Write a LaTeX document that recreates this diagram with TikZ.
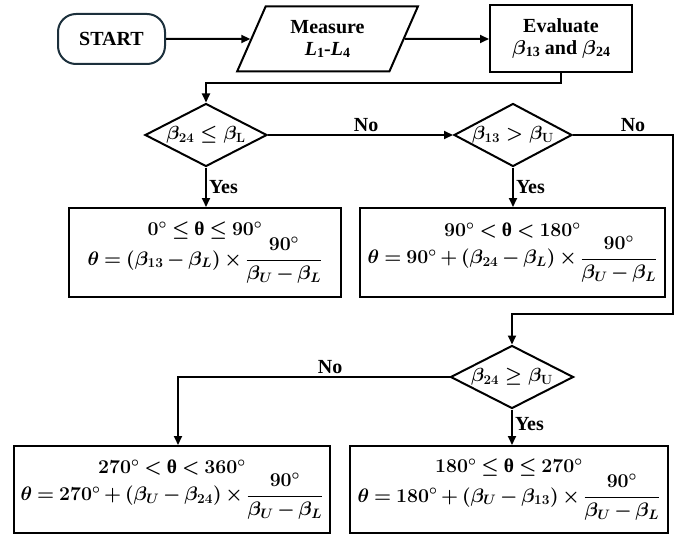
\RequirePackage{fix-cm}
\documentclass[tikz,border=0pt]{standalone}
\usepackage{amsmath}
\usepackage{fontspec}
\setmainfont{Liberation Serif}
\usetikzlibrary{arrows.meta,shapes.geometric}
\definecolor{startcol}{RGB}{28,48,60}
\newcommand{\lblfont}{\fontsize{20}{23}\selectfont\bfseries}
\newcommand{\boxfont}{\fontsize{20}{23}\selectfont\bfseries\boldmath}
\newcommand{\mathfont}{\fontsize{19.5}{23}\selectfont\bfseries\boldmath\medmuskip=3mu\thickmuskip=4mu}
\newcommand{\dfont}{\fontsize{19}{22}\selectfont\bfseries\boldmath}
\newcommand{\smallnum}[1]{\raisebox{-1.5pt}{\fontsize{14}{14}\selectfont #1}}
\begin{document}
\begin{tikzpicture}[x=1pt,y=-1pt,
  startbox/.style={draw=startcol, line width=2pt, rounded corners=18pt, minimum width=107pt, minimum height=50pt, inner sep=0pt, font=\boxfont},
  iobox/.style={draw, line width=2pt, trapezium, trapezium left angle=65, trapezium right angle=115, trapezium stretches=true, minimum width=181pt, minimum height=65pt, inner sep=0pt, align=center, font=\boxfont},
  procbox/.style={draw, line width=2pt, rectangle, inner sep=0pt, align=center, font=\boxfont},
  calcbox/.style={draw, line width=2pt, rectangle, inner sep=0pt, align=center, font=\mathfont},
  decision/.style={draw, line width=2pt, diamond, inner sep=0pt, minimum width=122pt, minimum height=63pt},
  dtext/.style={font=\dfont, inner sep=0pt},
  flow/.style={line width=2pt, -{Triangle[length=9pt,width=8pt]}},
  lbl/.style={font=\lblfont, inner sep=2pt}
]
\useasboundingbox (0,0) rectangle (689,535);

\node[startbox] (start) at (111.5,39) {START};
\node[iobox] (measure) at (327.5,39) {Measure\\[-1pt]{\itshape L}\smallnum{1}-{\itshape L}\smallnum{4}};
\node[procbox, minimum width=142pt, minimum height=67pt] (eval) at (561,39) {Evaluate\\[-1pt]$\beta$\smallnum{13} and $\beta$\smallnum{24}};

\node[decision] (d1) at (206,135) {};
\node[dtext] at (d1) {$\beta_{24}\le\beta_{\mathbf{L}}$};
\node[decision, minimum width=118pt] (d2) at (513,135) {};
\node[dtext] at (d2) {$\beta_{13}>\beta_{\mathbf{U}}$};
\node[decision, minimum width=123pt] (d3) at (512,377) {};
\node[dtext] at (d3) {$\beta_{24}\ge\beta_{\mathbf{U}}$};

\node[calcbox, minimum width=272pt, minimum height=89pt] (box1) at (205,252.5)
  {$0^\circ\le\text{θ}\le90^\circ$\\[-3pt]$\theta=(\beta_{13}-\beta_L)\times\dfrac{90^\circ}{\beta_U-\beta_L}$};
\node[calcbox, minimum width=305pt, minimum height=89pt] (box2) at (512.5,252.5)
  {$90^\circ<\text{θ}<180^\circ$\\[-3pt]$\theta=90^\circ+(\beta_{24}-\beta_L)\times\dfrac{90^\circ}{\beta_U-\beta_L}$};
\node[calcbox, minimum width=316pt, minimum height=87pt] (box3) at (172,489.5)
  {$270^\circ<\text{θ}<360^\circ$\\[-3pt]$\theta=270^\circ+(\beta_U-\beta_{24})\times\dfrac{90^\circ}{\beta_U-\beta_L}$};
\node[calcbox, minimum width=318pt, minimum height=87pt] (box4) at (509,489.5)
  {$180^\circ\le\text{θ}\le270^\circ$\\[-3pt]$\theta=180^\circ+(\beta_U-\beta_{13})\times\dfrac{90^\circ}{\beta_U-\beta_L}$};

\coordinate (j1) at (561,83);
\coordinate (r1) at (673,135);
\coordinate (r2) at (673,314);
\coordinate (l1) at (178,377);

\draw[flow] (start) -- (measure);
\draw[flow] (measure) -- (eval);
\draw[flow] (eval.south) -- (j1) -| (d1.north);
\draw[flow] (d1.east) -- node[lbl, above, pos=0.53] {No} (d2.west);
\draw[flow] (d1.south) -- node[lbl, right] {Yes} (d1.south |- box1.north);
\draw[flow] (d2.east) -- node[lbl, above, pos=0.6] {No} (r1) -- (r2) -| (d3.north);
\draw[flow] (d2.south) -- node[lbl, right] {Yes} (d2.south |- box2.north);
\draw[flow] (d3.west) -- node[lbl, above, pos=0.44] {No} (l1) -- (l1 |- box3.north);
\draw[flow] (d3.south) -- node[lbl, right, pos=0.4] {Yes} (d3.south |- box4.north);
\end{tikzpicture}
\end{document}
